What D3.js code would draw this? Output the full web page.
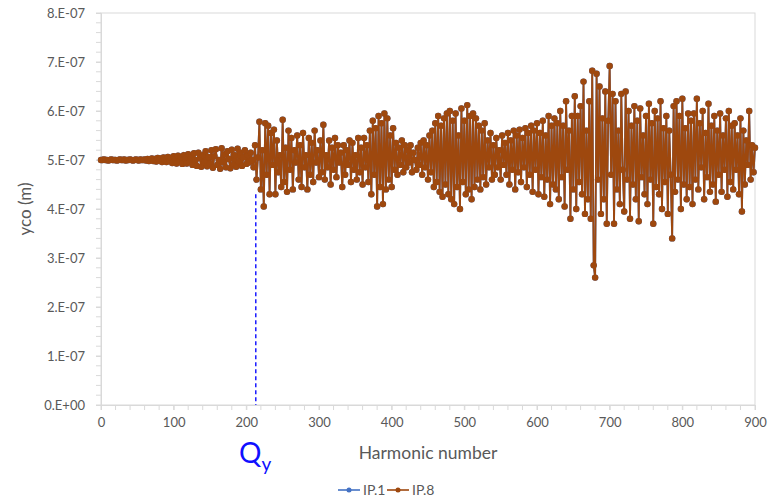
<!DOCTYPE html>
<html>
<head>
<meta charset="utf-8">
<script src="https://cdn.jsdelivr.net/npm/d3@7"></script>
<style>
  body { margin: 0; background: #fff; }
  text { font-family: Lato, "Open Sans", sans-serif; }
</style>
</head>
<body>
<svg id="chart" width="768" height="499"></svg>
<script>
// harmonic number runs 0..900 in steps of 2
const harmonicStep = 2
// yco in units of 1e-7 m (IP.1 lies under IP.8)
const ycoE7 = [
  5.00, 5.00, 5.01, 5.00, 5.00, 4.99, 5.00, 5.01, 5.00, 5.00, 5.00, 4.99, 5.00, 5.01, 5.00,
  5.00, 5.01, 4.99, 5.00, 5.00, 5.01, 5.00, 4.99, 5.00, 5.01, 5.00, 4.99, 5.01, 5.00, 5.00,
  5.01, 4.99, 5.02, 4.98, 5.01, 5.03, 4.98, 5.02, 4.97, 5.04, 4.99, 5.03, 4.96, 5.05, 5.00,
  4.96, 5.06, 4.98, 5.04, 4.94, 5.08, 5.01, 4.93, 5.09, 4.97, 5.06, 4.92, 5.10, 5.02, 4.93,
  5.12, 4.96, 5.05, 4.90, 5.14, 5.00, 4.88, 5.15, 5.04, 4.86, 5.10, 4.95, 5.18, 4.87, 5.06,
  4.92, 5.20, 4.84, 5.08, 5.22, 4.90, 5.00, 4.82, 5.24, 4.95, 5.12, 4.85, 5.18, 5.02, 4.83,
  5.21, 4.90, 5.10, 4.86, 5.23, 4.96, 5.15, 4.88, 5.05, 5.20, 4.92, 5.10, 4.95, 5.15, 5.00,
  4.85, 5.30, 4.60, 5.05, 5.78, 4.40, 5.20, 4.05, 5.75, 4.70, 5.70, 4.30, 5.55, 4.90, 5.62,
  4.30, 5.40, 4.75, 5.10, 4.45, 5.82, 4.55, 5.25, 4.35, 5.60, 4.80, 5.45, 4.40, 5.20, 4.95,
  5.50, 4.60, 5.30, 4.45, 5.55, 4.85, 5.10, 4.40, 5.45, 4.70, 5.35, 4.55, 5.60, 4.95, 5.20,
  4.65, 5.40, 4.75, 5.72, 4.60, 5.10, 4.85, 5.40, 4.50, 5.25, 4.80, 5.45, 4.65, 5.30, 4.95,
  5.15, 4.45, 5.30, 4.70, 5.20, 4.90, 5.40, 4.55, 5.35, 4.80, 5.10, 4.60, 5.45, 4.75, 5.25,
  4.50, 5.45, 4.85, 5.30, 4.55, 5.60, 4.30, 5.80, 4.70, 5.65, 4.05, 5.90, 4.45, 5.75, 4.10,
  5.95, 4.40, 5.85, 4.60, 5.50, 4.45, 5.65, 4.80, 5.35, 4.70, 5.25, 4.90, 5.40, 4.75, 5.30,
  4.85, 5.20, 4.95, 5.30, 4.75, 5.15, 5.00, 4.80, 5.25, 4.90, 5.35, 4.70, 5.40, 4.85, 5.30,
  4.60, 5.50, 4.75, 5.60, 4.45, 5.75, 4.55, 5.90, 4.35, 5.70, 4.25, 5.85, 4.50, 5.95, 4.30,
  6.00, 4.20, 5.80, 4.10, 5.95, 4.45, 5.50, 4.00, 6.05, 4.55, 5.80, 4.30, 6.12, 4.40, 5.90,
  4.20, 5.95, 4.45, 5.85, 4.60, 5.70, 4.40, 5.60, 4.65, 5.75, 4.50, 5.40, 4.85, 5.55, 4.60,
  5.30, 4.70, 5.45, 4.85, 5.20, 4.60, 5.50, 4.90, 5.35, 4.70, 5.55, 4.50, 5.40, 4.80, 5.60,
  4.40, 5.50, 4.75, 5.62, 4.55, 5.45, 4.85, 5.65, 4.45, 5.55, 4.70, 5.70, 4.35, 5.60, 4.80,
  5.75, 4.30, 5.55, 4.65, 5.80, 4.25, 5.50, 4.60, 5.90, 4.10, 5.70, 4.50, 5.85, 4.40, 5.75,
  4.20, 6.00, 4.65, 5.70, 4.05, 6.20, 4.80, 5.60, 3.80, 5.90, 4.40, 6.30, 4.00, 5.90, 4.55,
  6.10, 4.30, 6.60, 3.90, 5.60, 4.20, 6.20, 3.80, 6.82, 2.85, 2.60, 6.76, 4.60, 6.50, 3.90,
  5.85, 4.20, 6.40, 3.70, 5.80, 6.92, 4.70, 6.35, 3.70, 6.20, 4.40, 5.60, 4.10, 6.35, 4.80,
  3.95, 6.40, 4.60, 6.00, 3.80, 5.70, 4.50, 6.10, 4.20, 5.80, 3.75, 6.05, 4.65, 5.50, 4.30,
  5.90, 4.10, 6.15, 4.60, 5.75, 3.70, 6.00, 4.45, 5.85, 4.30, 6.20, 4.00, 5.65, 4.55, 5.90,
  3.90, 5.60, 4.70, 3.40, 6.10, 4.35, 6.20, 4.60, 5.90, 4.00, 6.25, 4.50, 5.65, 4.20, 5.95,
  4.45, 5.80, 4.10, 5.95, 4.60, 6.25, 4.40, 5.75, 4.85, 6.00, 4.20, 5.55, 4.65, 6.15, 4.35,
  5.70, 4.50, 5.90, 4.15, 5.60, 4.70, 5.95, 4.35, 5.50, 4.80, 5.85, 4.25, 6.00, 4.55, 5.70,
  4.40, 5.75, 4.80, 5.50, 4.30, 5.85, 3.95, 5.60, 4.50, 5.40, 4.90, 6.00, 4.60, 5.30, 4.75,
  5.25
]
const seriesNames = ['IP.1', 'IP.8']
const seriesColors = ['#4472C4', '#9E480E']
const xTicks = [0, 100, 200, 300, 400, 500, 600, 700, 800, 900]
const yTicks = [0, 1e-7, 2e-7, 3e-7, 4e-7, 5e-7, 6e-7, 7e-7, 8e-7]
const yTickLabels = ['0.E+00', '1.E-07', '2.E-07', '3.E-07', '4.E-07', '5.E-07', '6.E-07', '7.E-07', '8.E-07']
const qyHarmonic = 213
const qyTop = 4.3e-7

const points = ycoE7.map((v, i) => ({ h: i * harmonicStep, y: v * 1e-7 }))

const margin = { left: 101, right: 13, top: 13, bottom: 94 }
const width = 768, height = 499
const svg = d3.select('#chart')

const x = d3.scaleLinear().domain([0, 900]).range([margin.left, width - margin.right])
const y = d3.scaleLinear().domain([0, 8e-7]).range([height - margin.bottom, margin.top])

// plot area border
svg.append('rect')
  .attr('x', x(0)).attr('y', y(8e-7))
  .attr('width', x(900) - x(0)).attr('height', y(0) - y(8e-7))
  .attr('fill', 'none').attr('stroke', '#d9d9d9')

// minor ticks
const minorX = d3.range(0, 901, 20)
const minorY = d3.range(0, 41).map(i => i * 2e-8)
svg.append('g').selectAll('line').data(minorX).enter().append('line')
  .attr('x1', d => x(d)).attr('x2', d => x(d))
  .attr('y1', y(0)).attr('y2', y(0) + 5)
  .attr('stroke', '#d9d9d9')
svg.append('g').selectAll('line').data(minorY).enter().append('line')
  .attr('y1', d => y(d)).attr('y2', d => y(d))
  .attr('x1', x(0) - 5).attr('x2', x(0))
  .attr('stroke', '#d9d9d9')

// axes
const xAxis = svg.append('g')
  .attr('transform', `translate(0,${y(0)})`)
  .call(d3.axisBottom(x).tickValues(xTicks).tickSize(5).tickPadding(8))
const yAxis = svg.append('g')
  .attr('transform', `translate(${x(0)},0)`)
  .call(d3.axisLeft(y).tickValues(yTicks).tickSize(5).tickPadding(11)
    .tickFormat((d, i) => yTickLabels[i]))
;[xAxis, yAxis].forEach(g => {
  g.select('.domain').attr('stroke', '#d9d9d9')
  g.selectAll('.tick line').attr('stroke', '#d9d9d9')
  g.selectAll('.tick text').attr('fill', '#595959').style('font-size', '13px')
    .style('font-family', 'Lato, sans-serif')
})

// series: IP.1 first, IP.8 drawn over it
const line = d3.line().x(d => x(d.h)).y(d => y(d.y))
seriesColors.forEach(color => {
  const g = svg.append('g')
  g.append('path').datum(points)
    .attr('d', line).attr('fill', 'none')
    .attr('stroke', color).attr('stroke-width', 1.8)
  g.selectAll('circle').data(points).enter().append('circle')
    .attr('cx', d => x(d.h)).attr('cy', d => y(d.y))
    .attr('r', 3.2).attr('fill', color)
})

// Qy marker
svg.append('line')
  .attr('x1', x(qyHarmonic)).attr('x2', x(qyHarmonic))
  .attr('y1', y(qyTop)).attr('y2', y(0))
  .attr('stroke', '#1a1aff').attr('stroke-width', 1.5)
  .attr('stroke-dasharray', '4,3')
const qy = svg.append('text')
  .attr('x', 239).attr('y', 463)
  .attr('fill', '#1010ff').style('font-size', '28px')
qy.append('tspan').text('Q')
qy.append('tspan').attr('dy', 8).style('font-size', '19px').text('y')

// axis titles
svg.append('text')
  .attr('x', (x(0) + x(900)) / 2).attr('y', 459)
  .attr('text-anchor', 'middle').attr('fill', '#595959')
  .style('font-size', '17.5px').text('Harmonic number')
svg.append('text')
  .attr('transform', `translate(31,${(y(0) + y(8e-7)) / 2}) rotate(-90)`)
  .attr('text-anchor', 'middle').attr('fill', '#595959')
  .style('font-size', '17px').text('yco (m)')

// legend
const legend = svg.append('g').attr('transform', 'translate(338,490)')
seriesNames.forEach((name, i) => {
  const g = legend.append('g').attr('transform', `translate(${i * 49},0)`)
  g.append('line').attr('x1', 0).attr('x2', 22).attr('y1', 0).attr('y2', 0)
    .attr('stroke', seriesColors[i]).attr('stroke-width', 1.6)
  g.append('circle').attr('cx', 11).attr('cy', 0).attr('r', 2.5).attr('fill', seriesColors[i])
  g.append('text').attr('x', 25).attr('y', 5)
    .attr('fill', '#595959').style('font-size', '14px').text(name)
})
</script>
</body>
</html>
